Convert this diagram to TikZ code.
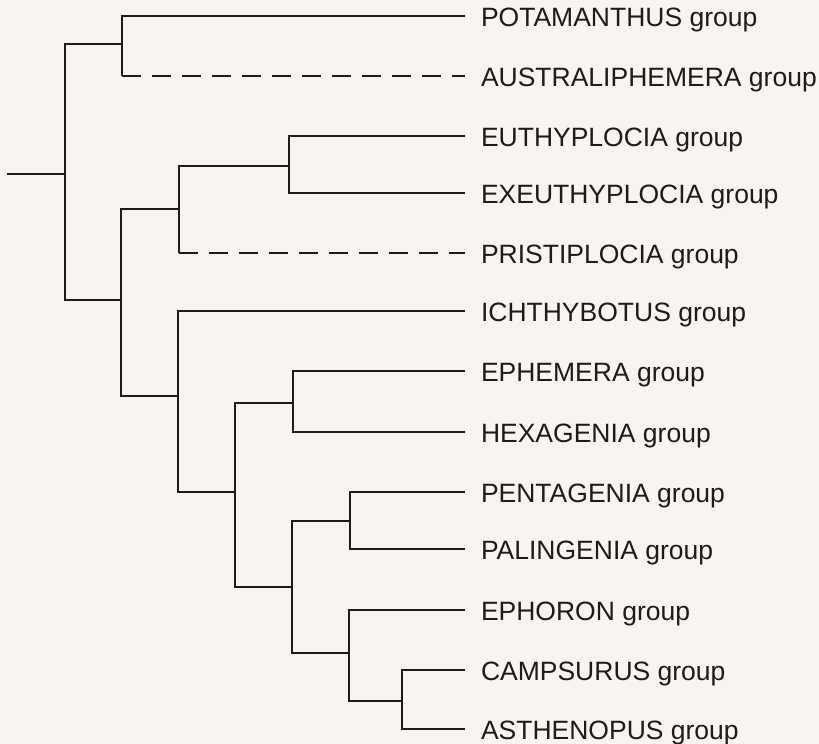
\documentclass[tikz,border=0pt]{standalone}
\usepackage{fontspec}
\setmainfont{Liberation Sans}
\usetikzlibrary{positioning}
\definecolor{paper}{RGB}{248,244,240}
\definecolor{ink}{RGB}{28,28,28}

\begin{document}
\begin{tikzpicture}[x=1pt,y=-1pt,
    branch/.style={draw=ink,line width=1.7pt},
    uncertain/.style={branch,dash pattern=on 19pt off 11pt},
    leaf/.style={anchor=west,inner xsep=0pt,outer xsep=16pt,inner ysep=0pt,text height=20pt,text depth=0pt,text=ink,font=\fontsize{26.5}{30}\selectfont}]
  \fill[paper] (0,0) rectangle (819,744);
  \useasboundingbox (0,0) rectangle (819,744);
  % terminal groups
  \foreach \nm/\y/\txt in {pot/16/POTAMANTHUS,aus/76/AUSTRALIPHEMERA,eut/136/EUTHYPLOCIA,exe/193/EXEUTHYPLOCIA,pri/253/PRISTIPLOCIA,ich/311/ICHTHYBOTUS,eph/371/EPHEMERA,hex/432/HEXAGENIA,pen/492/PENTAGENIA,pal/549/PALINGENIA,epo/610/EPHORON,cam/670/CAMPSURUS,ast/729/ASTHENOPUS}{
    \node[leaf] (\nm) at (465,\y) {\txt{} group};
  }
  % internal nodes
  \coordinate (base) at (7,174);
  \coordinate (root) at (65,174);
  \foreach \nm/\x/\y in {potaus/122/44,rest/121/300,euthy/179/209,euexe/289/166,ephem/178/396,upper/235/492,ephhex/293/403,lower/292/587,penpal/350/521,ephor/349/653,campa/402/701}{
    \coordinate (\nm) at (\x,\y);
  }
  \draw[branch] (base) -- (root);
  \foreach \p/\c in {root/potaus,root/rest,potaus/pot,rest/euthy,rest/ephem,euthy/euexe,euexe/eut,euexe/exe,ephem/ich,ephem/upper,upper/ephhex,upper/lower,ephhex/eph,ephhex/hex,lower/penpal,lower/ephor,penpal/pen,penpal/pal,ephor/epo,ephor/campa,campa/cam,campa/ast}{
    \draw[branch] (\p) |- (\c);
  }
  % doubtful placements
  \draw[branch] (potaus) -- (potaus |- aus);
  \draw[uncertain] (potaus |- aus) -- (aus);
  \draw[branch] (euthy) -- (euthy |- pri);
  \draw[uncertain] (euthy |- pri) -- (pri);
\end{tikzpicture}
\end{document}
